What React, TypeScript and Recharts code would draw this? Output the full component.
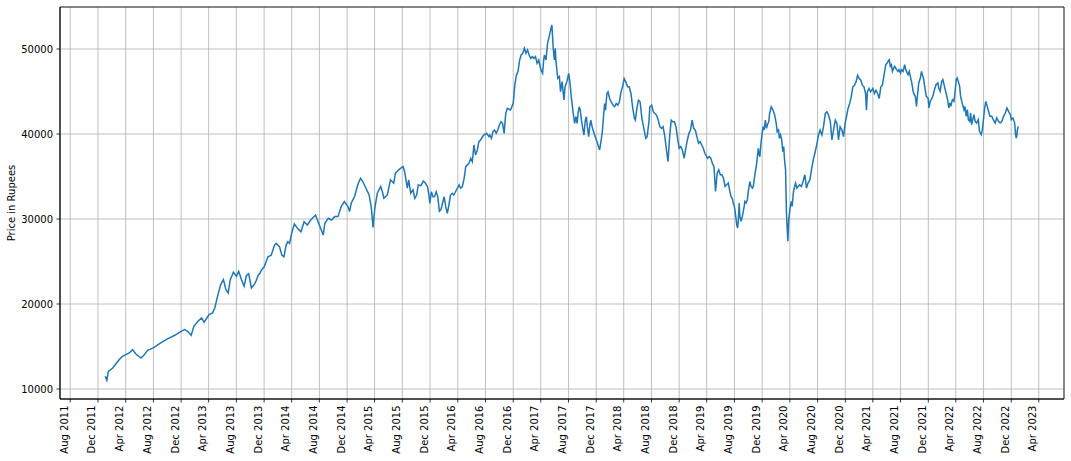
import React from 'react'
import { LineChart, Line, XAxis, YAxis, CartesianGrid, ReferenceArea } from 'recharts'

// [month-day, price] readings per year
const y2012: [string, number][] = [
  ['01-02', 11490], ['01-09', 11030], ['01-16', 12080], ['02-04', 12470], ['02-19', 13000],
  ['03-03', 13450], ['03-18', 13850], ['04-01', 14040], ['04-17', 14240], ['05-01', 14630],
  ['05-16', 14120], ['06-07', 13650], ['06-22', 14040], ['07-06', 14550], ['08-01', 14830],
  ['08-21', 15220], ['09-13', 15610], ['10-04', 15930], ['11-03', 16320], ['12-01', 16790],
  ['12-16', 16990], ['12-30', 16790],
]
const y2013: [string, number][] = [
  ['01-14', 16320], ['01-26', 17380], ['02-13', 17970], ['03-01', 18360], ['03-12', 17850],
  ['04-03', 18750], ['04-18', 18950], ['04-28', 19530], ['05-10', 20900], ['05-24', 22280],
  ['06-05', 22870], ['06-16', 21690], ['06-26', 21300], ['07-05', 22870], ['07-19', 23730],
  ['08-01', 23260], ['08-11', 23850], ['08-23', 22870], ['09-04', 22080], ['09-14', 23340],
  ['09-24', 23570], ['10-06', 21890], ['10-21', 22400], ['10-28', 22800], ['11-05', 23390],
  ['11-12', 23580], ['11-19', 23980], ['12-01', 24370], ['12-18', 25550],
]
const y2014: [string, number][] = [
  ['01-01', 25750], ['01-16', 26930], ['01-23', 27130], ['02-07', 26730], ['02-17', 25750],
  ['02-26', 25550], ['03-08', 26930], ['03-15', 27320], ['03-23', 27130], ['04-01', 28310],
  ['04-13', 29410], ['04-27', 28900], ['05-12', 28500], ['05-26', 29680], ['06-09', 29290],
  ['06-24', 29880], ['07-15', 30470], ['08-04', 29090], ['08-18', 28110], ['08-25', 29490],
  ['09-09', 30080], ['09-23', 29880], ['10-08', 30280], ['10-22', 30280], ['11-05', 31460],
  ['11-19', 32050], ['12-05', 31460], ['12-12', 30870], ['12-19', 31850],
]
const y2015: [string, number][] = [
  ['01-03', 32640], ['01-17', 34020], ['01-29', 34800], ['02-08', 34410], ['02-22', 33620],
  ['03-08', 32830], ['03-18', 31260], ['03-25', 29020], ['04-02', 31260], ['04-13', 33030],
  ['04-28', 33820], ['05-05', 33230], ['05-12', 32440], ['05-27', 32830], ['06-10', 34610],
  ['06-24', 34210], ['07-02', 35390], ['07-16', 35790], ['08-04', 36180], ['08-11', 35590],
  ['08-23', 33620], ['08-29', 34610], ['09-07', 33030], ['09-17', 33420], ['09-25', 32430],
  ['10-03', 32820], ['10-10', 34000], ['10-22', 33920], ['11-01', 34470], ['11-11', 34200],
  ['11-20', 33800], ['11-26', 32820], ['11-30', 31840], ['12-07', 33220], ['12-14', 32630],
  ['12-21', 32630], ['12-28', 33220],
]
const y2016: [string, number][] = [
  ['01-04', 32630], ['01-11', 30900], ['01-18', 31100], ['01-25', 31880], ['02-01', 32630],
  ['02-08', 31450], ['02-15', 30670], ['02-22', 31650], ['02-29', 32820], ['03-07', 33020],
  ['03-14', 32820], ['03-26', 33410], ['04-07', 34000], ['04-14', 33610], ['04-21', 33800],
  ['04-29', 34780], ['05-06', 36160], ['05-20', 36550], ['05-28', 37140], ['06-04', 36750],
  ['06-11', 38710], ['06-18', 37530], ['06-26', 38120], ['07-03', 39100], ['07-10', 39300],
  ['07-24', 39880], ['08-06', 40080], ['08-16', 39690], ['08-20', 39880], ['08-27', 39490],
  ['09-03', 40280], ['09-10', 40470], ['09-17', 40080], ['09-24', 40470], ['10-01', 41060],
  ['10-08', 41450], ['10-15', 41260], ['10-22', 40080], ['10-29', 42430], ['11-05', 43020],
  ['11-19', 42820], ['12-01', 43610], ['12-08', 45770], ['12-15', 46930], ['12-22', 47340],
  ['12-29', 48700],
]
const y2017: [string, number][] = [
  ['01-05', 49300], ['01-12', 49490], ['01-19', 50080], ['01-26', 49490], ['02-02', 49880],
  ['02-09', 49290], ['02-16', 48900], ['02-23', 49100], ['03-02', 48900], ['03-09', 49100],
  ['03-16', 48310], ['03-23', 48700], ['04-02', 47530], ['04-09', 47140], ['04-14', 48700],
  ['04-17', 49290], ['04-24', 48700], ['05-01', 50670], ['05-08', 51450], ['05-16', 52430],
  ['05-20', 52820], ['05-26', 50080], ['05-31', 48700], ['06-04', 50080], ['06-07', 48510],
  ['06-15', 46550], ['06-22', 46750], ['06-27', 44980], ['07-04', 46160], ['07-12', 44000],
  ['07-17', 45570], ['07-25', 46160], ['08-02', 47140], ['08-07', 46160], ['08-14', 44200],
  ['08-21', 42630], ['08-28', 41260], ['09-03', 42030], ['09-08', 41250], ['09-12', 42420],
  ['09-17', 43200], ['09-22', 42810], ['09-27', 41640], ['10-04', 40470], ['10-08', 39880],
  ['10-14', 41640], ['10-19', 42030], ['10-23', 40860], ['10-29', 39690], ['11-03', 41050],
  ['11-07', 41640], ['11-13', 40860], ['11-17', 40470], ['11-24', 39880], ['12-02', 39300],
  ['12-09', 38710], ['12-16', 38130], ['12-23', 39300], ['12-28', 40270],
]
const y2018: [string, number][] = [
  ['01-02', 42030], ['01-07', 43590], ['01-11', 42810], ['01-17', 44770], ['01-22', 44960],
  ['01-29', 44180], ['02-05', 43790], ['02-13', 43400], ['02-20', 43200], ['02-27', 43590],
  ['03-06', 43400], ['03-13', 43790], ['03-20', 44960], ['03-27', 45550], ['04-03', 46520],
  ['04-10', 46130], ['04-18', 45550], ['04-25', 45550], ['05-03', 44770], ['05-10', 43200],
  ['05-18', 41840], ['05-22', 41640], ['05-30', 43200], ['06-05', 43980], ['06-12', 43790],
  ['06-20', 41840], ['06-27', 40860], ['07-07', 39490], ['07-13', 39690], ['07-21', 41450],
  ['07-25', 43200], ['08-02', 43400], ['08-09', 42620], ['08-16', 42420], ['08-23', 42230],
  ['08-31', 41640], ['09-07', 40860], ['09-14', 40660], ['09-21', 40860], ['09-29', 39690],
  ['10-06', 38130], ['10-13', 36760], ['10-20', 39690], ['10-27', 41640], ['11-03', 41450],
  ['11-10', 41450], ['11-17', 40860], ['11-24', 39490], ['12-01', 38320], ['12-08', 38520],
  ['12-15', 38130], ['12-23', 37150], ['12-30', 38320],
]
const y2019: [string, number][] = [
  ['01-06', 39300], ['01-13', 40080], ['01-20', 40470], ['01-27', 41640], ['02-03', 40660],
  ['02-10', 40470], ['02-17', 39690], ['02-24', 38910], ['03-03', 39100], ['03-10', 38710],
  ['03-17', 38320], ['03-24', 37730], ['04-05', 37150], ['04-12', 37340], ['04-19', 37150],
  ['04-26', 36560], ['05-03', 36170], ['05-10', 33240], ['05-17', 35390], ['05-24', 35780],
  ['05-31', 35200], ['06-07', 35200], ['06-14', 34800], ['06-21', 33830], ['06-28', 34020],
  ['07-05', 34220], ['07-12', 33240], ['07-17', 32660], ['07-22', 32460], ['07-27', 31880],
  ['08-01', 31480], ['08-07', 30310], ['08-11', 29340], ['08-15', 28950], ['08-18', 29730],
  ['08-22', 31880], ['08-25', 30310], ['08-30', 29730], ['09-05', 30310], ['09-09', 30900],
  ['09-13', 31480], ['09-16', 32070], ['09-21', 31880], ['09-27', 32270], ['10-01', 33240],
  ['10-08', 34410], ['10-13', 33830], ['10-19', 33630], ['10-23', 33830], ['10-30', 35200],
  ['11-07', 36560], ['11-14', 38320], ['11-18', 37540], ['11-21', 37340], ['11-25', 38710],
  ['12-01', 40080], ['12-05', 40860], ['12-10', 40470], ['12-15', 41640], ['12-20', 40660],
  ['12-24', 41050], ['12-30', 41450],
]
const y2020: [string, number][] = [
  ['01-03', 42420], ['01-10', 43200], ['01-18', 42810], ['01-25', 42230], ['02-01', 41250],
  ['02-05', 40270], ['02-11', 40470], ['02-15', 39490], ['02-20', 39880], ['02-25', 39300],
  ['03-01', 37930], ['03-05', 38520], ['03-08', 37150], ['03-13', 35780], ['03-17', 30700],
  ['03-23', 27380], ['03-27', 29920], ['04-01', 31090], ['04-07', 32070], ['04-11', 31480],
  ['04-17', 33240], ['04-22', 33830], ['04-26', 34220], ['05-02', 33630], ['05-07', 33830],
  ['05-14', 34020], ['05-22', 33830], ['05-29', 34410], ['06-06', 35200], ['06-13', 33630],
  ['06-20', 34220], ['06-28', 34610], ['07-05', 35780], ['07-13', 36950], ['07-20', 37730],
  ['07-28', 38710], ['08-05', 39880], ['08-12', 40470], ['08-20', 39880], ['08-27', 40860],
  ['09-04', 42420], ['09-11', 42620], ['09-18', 42230], ['09-26', 41450], ['10-03', 39300],
  ['10-10', 40470], ['10-18', 41640], ['10-25', 41250], ['11-01', 39300], ['11-08', 40860],
  ['11-16', 40470], ['11-23', 39690], ['11-30', 41250], ['12-06', 42030], ['12-13', 43010],
  ['12-20', 43590], ['12-27', 44370],
]
const y2021: [string, number][] = [
  ['01-03', 45550], ['01-10', 45740], ['01-17', 46130], ['01-24', 46910], ['01-31', 46520],
  ['02-07', 46330], ['02-14', 45740], ['02-21', 45550], ['02-28', 44770], ['03-04', 42810],
  ['03-08', 44960], ['03-15', 45350], ['03-22', 44960], ['04-01', 45350], ['04-08', 44770],
  ['04-15', 45160], ['04-22', 44770], ['04-29', 44180], ['05-06', 45550], ['05-13', 45740],
  ['05-20', 46910], ['05-28', 48150], ['06-03', 48350], ['06-07', 48550], ['06-12', 48740],
  ['06-17', 47960], ['06-22', 48150], ['06-26', 47370], ['07-02', 47760], ['07-06', 47960],
  ['07-14', 47570], ['07-21', 47370], ['07-25', 47570], ['08-01', 47170], ['08-05', 47570],
  ['08-12', 47370], ['08-19', 48150], ['08-24', 47570], ['08-30', 47170], ['09-03', 46980],
  ['09-08', 47370], ['09-13', 46780], ['09-18', 46190], ['09-22', 45610], ['09-25', 45020],
  ['09-30', 44630], ['10-05', 44430], ['10-10', 43250], ['10-14', 44430], ['10-20', 46000],
  ['10-27', 46590], ['11-01', 47370], ['11-05', 46980], ['11-11', 46390], ['11-15', 45610],
  ['11-22', 44430], ['11-30', 44230], ['12-04', 43060], ['12-09', 43840], ['12-14', 44040],
  ['12-21', 44430], ['12-28', 45210],
]
const y2022: [string, number][] = [
  ['01-04', 45800], ['01-12', 46000], ['01-16', 45410], ['01-22', 45020], ['01-29', 46190],
  ['02-03', 46390], ['02-10', 45610], ['02-17', 44820], ['02-24', 44040], ['03-01', 43060],
  ['03-06', 43650], ['03-10', 43250], ['03-17', 44040], ['03-24', 43840], ['03-28', 44820],
  ['04-03', 46390], ['04-07', 46590], ['04-12', 46190], ['04-18', 45610], ['04-22', 44430],
  ['04-29', 43650], ['05-07', 42860], ['05-11', 43250], ['05-17', 42080], ['05-22', 42860],
  ['05-26', 41690], ['06-01', 41490], ['06-05', 42470], ['06-10', 41100], ['06-16', 41880],
  ['06-20', 42270], ['06-25', 41490], ['07-01', 41290], ['07-09', 41690], ['07-14', 40310],
  ['07-22', 39920], ['07-27', 40510], ['08-02', 42080], ['08-06', 43060], ['08-11', 43840],
  ['08-17', 43250], ['08-23', 42670], ['08-29', 42080], ['09-06', 42080], ['09-13', 41690],
  ['09-21', 41290], ['09-28', 41880], ['10-06', 41490], ['10-13', 41290], ['10-21', 41490],
  ['10-28', 42080], ['11-05', 42470], ['11-12', 43060], ['11-19', 42670], ['11-27', 42270],
  ['12-01', 41690], ['12-08', 41880], ['12-16', 41290], ['12-20', 39920], ['12-23', 39530],
  ['12-26', 39920], ['12-28', 40510],
]
const y2023: [string, number][] = [['01-01', 40900]]

const years: [number, [string, number][]][] = [
  [2012, y2012], [2013, y2013], [2014, y2014], [2015, y2015], [2016, y2016], [2017, y2017],
  [2018, y2018], [2019, y2019], [2020, y2020], [2021, y2021], [2022, y2022], [2023, y2023],
]

const xTickLabels = [
  'Aug 2011', 'Dec 2011', 'Apr 2012', 'Aug 2012', 'Dec 2012', 'Apr 2013', 'Aug 2013', 'Dec 2013',
  'Apr 2014', 'Aug 2014', 'Dec 2014', 'Apr 2015', 'Aug 2015', 'Dec 2015', 'Apr 2016', 'Aug 2016',
  'Dec 2016', 'Apr 2017', 'Aug 2017', 'Dec 2017', 'Apr 2018', 'Aug 2018', 'Dec 2018', 'Apr 2019',
  'Aug 2019', 'Dec 2019', 'Apr 2020', 'Aug 2020', 'Dec 2020', 'Apr 2021', 'Aug 2021', 'Dec 2021',
  'Apr 2022', 'Aug 2022', 'Dec 2022', 'Apr 2023',
]
const yTicks = [10000, 20000, 30000, 40000, 50000]

const MONTHS: Record<string, number> = { Apr: 3, Aug: 7, Dec: 11 }

const data = years.flatMap(([yr, pts]) =>
  pts.map(([md, price]) => ({
    t: Date.UTC(yr, Number(md.slice(0, 2)) - 1, Number(md.slice(3))),
    price,
  }))
)

const tickTimes = xTickLabels.map((l) => {
  const [m, y] = l.split(' ')
  return Date.UTC(Number(y), MONTHS[m], 1)
})
const labelFor = new Map(tickTimes.map((t, i) => [t, xTickLabels[i]]))

const X_MIN = Date.UTC(2011, 5, 17)
const X_MAX = Date.UTC(2023, 6, 21)
const Y_MIN = 8824
const Y_MAX = 54941

const FONT = "'DejaVu Sans', sans-serif"

const XTick = (props: any) => {
  const { x, y, payload } = props
  const tx = x - 2.5
  const ty = y
  return (
    <text
      x={tx}
      y={ty}
      transform={`rotate(-90 ${tx} ${ty})`}
      textAnchor="end"
      fontSize={10}
      fontFamily={FONT}
      fill="#000"
    >
      {labelFor.get(payload.value)}
    </text>
  )
}

export default function App() {
  return (
    <div style={{ position: 'relative', width: 1071, height: 461, background: '#fff' }}>
      <style>{'body{margin:0}'}</style>
      <LineChart width={1071} height={461} data={data} margin={{ top: 7, right: 7, bottom: 0, left: 0 }}>
        <CartesianGrid stroke="#b0b0b0" strokeWidth={0.8} />
        <XAxis
          dataKey="t"
          type="number"
          domain={[X_MIN, X_MAX]}
          allowDataOverflow
          ticks={tickTimes}
          interval={0}
          height={62}
          tick={<XTick />}
          tickSize={3.5}
          tickMargin={3}
          axisLine={{ stroke: '#000', strokeWidth: 0.8 }}
          tickLine={{ stroke: '#000', strokeWidth: 0.8 }}
        />
        <YAxis
          type="number"
          domain={[Y_MIN, Y_MAX]}
          allowDataOverflow
          ticks={yTicks}
          interval={0}
          width={60}
          tickSize={3.5}
          tickMargin={3.5}
          tick={{ fontSize: 10, fill: '#000', fontFamily: FONT }}
          axisLine={{ stroke: '#000', strokeWidth: 0.8 }}
          tickLine={{ stroke: '#000', strokeWidth: 0.8 }}
        />
        <Line
          type="linear"
          dataKey="price"
          stroke="#1f77b4"
          strokeWidth={1.5}
          dot={false}
          isAnimationActive={false}
        />
        <ReferenceArea x1={X_MIN} x2={X_MAX} y1={Y_MIN} y2={Y_MAX} fill="none" stroke="#000" strokeWidth={0.8} />
      </LineChart>
      <svg width={1071} height={461} style={{ position: 'absolute', left: 0, top: 0, pointerEvents: 'none' }}>
        <text x={15} y={203} transform="rotate(-90 15 203)" textAnchor="middle" fontSize={10} fontFamily={FONT} fill="#000">
          Price in Rupees
        </text>
      </svg>
    </div>
  )
}
